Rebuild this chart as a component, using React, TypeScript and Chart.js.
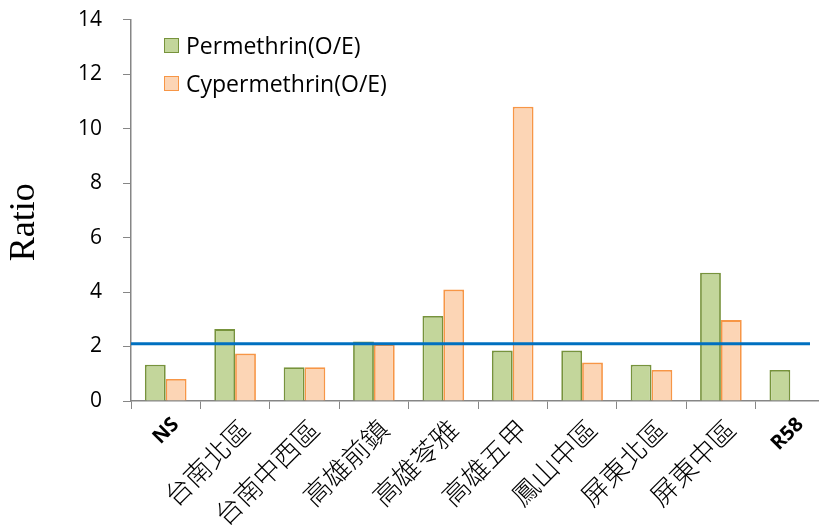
import React, { useEffect, useRef } from "react";
import { Chart, registerables } from "chart.js";

Chart.register(...registerables);

const categories = ["NS", "台南北區", "台南中西區", "高雄前鎮", "高雄苓雅", "高雄五甲", "鳳山中區", "屏東北區", "屏東中區", "R58"];
const permethrin = [1.33, 2.64, 1.24, 2.18, 3.12, 1.85, 1.85, 1.33, 4.71, 1.14];
const cypermethrin = [0.81, 1.74, 1.24, 2.08, 4.09, 10.8, 1.41, 1.14, 2.97, 0];
const threshold = 2.1;
const yTicks = [0, 2, 4, 6, 8, 10, 12, 14];
const yTitle = "Ratio";

const GREEN_FILL = "#c3d69b";
const GREEN_BORDER = "#77933c";
const ORANGE_FILL = "#fcd5b5";
const ORANGE_BORDER = "#f79646";
const BLUE = "#0070c0";
const AXIS = "#868686";

const thresholdPlugin = {
  id: "thresholdLine",
  afterDatasetsDraw(chart: any) {
    const { ctx, chartArea, scales } = chart;
    const y = scales.y.getPixelForValue(threshold);
    ctx.save();
    ctx.strokeStyle = BLUE;
    ctx.lineWidth = 3;
    ctx.beginPath();
    ctx.moveTo(chartArea.left, y);
    ctx.lineTo(chartArea.right - 15, y);
    ctx.stroke();
    ctx.restore();
  },
};

const titlePlugin = {
  id: "yTitle",
  afterDraw(chart: any) {
    const { ctx, chartArea } = chart;
    ctx.save();
    ctx.translate(25, (chartArea.top + chartArea.bottom) / 2 + 12);
    ctx.rotate(-Math.PI / 2);
    ctx.fillStyle = "#000";
    ctx.font = "36px 'Liberation Serif', serif";
    ctx.textAlign = "center";
    ctx.textBaseline = "middle";
    ctx.fillText(yTitle, 0, 0);
    ctx.restore();
  },
};

export default function App() {
  const ref = useRef<HTMLCanvasElement>(null);
  useEffect(() => {
    const chart = new Chart(ref.current as HTMLCanvasElement, {
      type: "bar",
      data: {
        labels: categories,
        datasets: [
          {
            label: "Permethrin(O/E)",
            data: permethrin,
            backgroundColor: GREEN_FILL,
            borderColor: GREEN_BORDER,
            borderWidth: 1.8,
          },
          {
            label: "Cypermethrin(O/E)",
            data: cypermethrin,
            backgroundColor: ORANGE_FILL,
            borderColor: ORANGE_BORDER,
            borderWidth: 1.8,
          },
        ],
      },
      options: {
        responsive: false,
        animation: false,
        layout: { padding: { top: 2, right: 5, left: 4, bottom: 0 } },
        datasets: { bar: { categoryPercentage: 0.6, barPercentage: 1.0 } },
        plugins: { legend: { display: false }, tooltip: { enabled: false } },
        scales: {
          x: {
            grid: { display: true, drawOnChartArea: false, drawTicks: true, tickLength: 8, color: AXIS, offset: true },
            border: { display: true, color: AXIS, width: 1.5 },
            ticks: {
              color: "#000",
              maxRotation: 45,
              minRotation: 45,
              autoSkip: false,
              padding: 4,
              labelOffset: 10,
              font: (c: any) => ({
                family: c.index === 0 || c.index === 9 ? "'Open Sans', sans-serif" : "'Noto Sans CJK TC', sans-serif",
                size: c.index === 0 || c.index === 9 ? 20 : 27,
                weight: c.index === 0 || c.index === 9 ? "bold" : "300",
              }),
            },
            afterFit: (s: any) => { s.height = 127; },
          },
          y: {
            min: 0,
            max: 14,
            afterBuildTicks: (s: any) => { s.ticks = yTicks.map((v) => ({ value: v })); },
            grid: { display: true, drawOnChartArea: false, drawTicks: true, tickLength: 8, color: AXIS },
            border: { display: true, color: AXIS, width: 1.5 },
            ticks: { color: "#000", padding: 21, font: { family: "'Open Sans', sans-serif", size: 21 } },
            afterFit: (s: any) => { s.width = 127; },
          },
        },
      },
      plugins: [thresholdPlugin, titlePlugin],
    });
    return () => chart.destroy();
  }, []);

  const legendItem = (label: string, fill: string, border: string, top: number) => (
    <div style={{ position: "absolute", left: 164, top, display: "flex", alignItems: "center", fontFamily: "'Open Sans', sans-serif", fontSize: 23, color: "#000", lineHeight: "26px" }}>
      <span style={{ display: "inline-block", width: 13, height: 13, background: fill, border: `1.5px solid ${border}`, marginRight: 7 }} />
      <span>{label}</span>
    </div>
  );

  return (
    <div style={{ position: "fixed", left: 0, top: 0, width: 819, height: 528, overflow: "hidden", background: "#fff" }}>
      <canvas ref={ref} width={830} height={542} style={{ position: "absolute", left: 0, top: -14 }} />
      {legendItem("Permethrin(O/E)", GREEN_FILL, GREEN_BORDER, 32)}
      {legendItem("Cypermethrin(O/E)", ORANGE_FILL, ORANGE_BORDER, 70)}
    </div>
  );
}
